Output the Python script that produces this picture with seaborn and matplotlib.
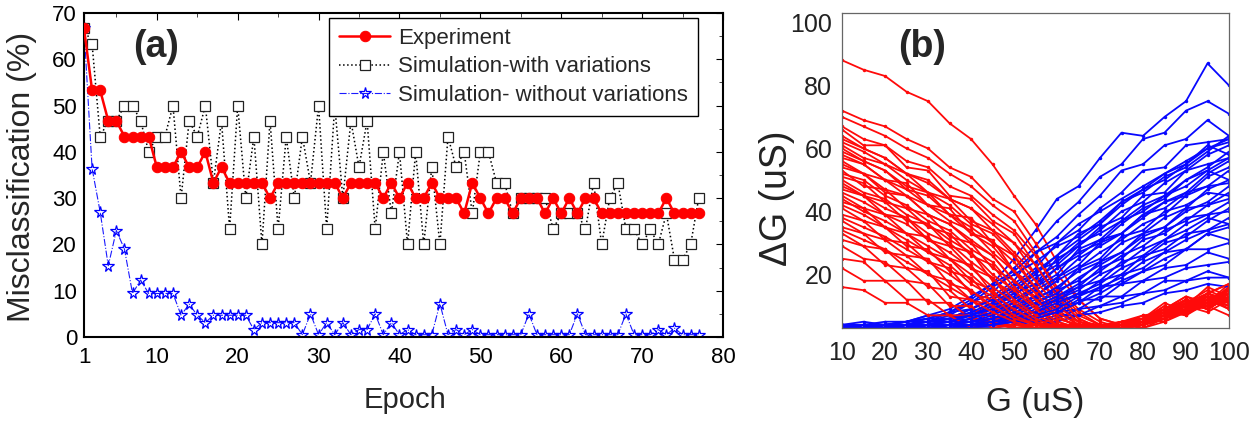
import matplotlib
matplotlib.use("Agg")
import matplotlib.pyplot as plt
from matplotlib.ticker import MultipleLocator, FixedLocator
import seaborn as sns

sns.set_theme(style="white")
plt.rcParams['font.family'] = ['Liberation Sans', 'DejaVu Sans']

# ---------------- panel (a) data ----------------
epochs = list(range(1, 78))
experiment = [66.7, 53.3, 53.3, 46.7, 46.7, 43.3, 43.3, 43.3, 43.3, 36.7,
              36.7, 36.7, 40.0, 36.7, 36.7, 40.0, 33.3, 36.7, 33.3, 33.3,
              33.3, 33.3, 33.3, 30.0, 33.3, 33.3, 33.3, 33.3, 33.3, 33.3,
              33.3, 33.3, 30.0, 33.3, 33.3, 33.3, 33.3, 30.0, 33.3, 30.0,
              33.3, 30.0, 30.0, 33.3, 30.0, 30.0, 30.0, 26.7, 33.3, 30.0,
              26.7, 30.0, 30.0, 26.7, 30.0, 30.0, 30.0, 26.7, 30.0, 26.7,
              30.0, 26.7, 30.0, 30.0, 26.7, 26.7, 26.7, 26.7, 26.7, 26.7,
              26.7, 26.7, 30.0, 26.7, 26.7, 26.7, 26.7]
sim_with_var = [66.7, 63.3, 43.3, 46.7, 46.7, 50.0, 50.0, 46.7, 40.0, 43.3,
                43.3, 50.0, 30.0, 46.7, 43.3, 50.0, 33.3, 46.7, 23.3, 50.0,
                30.0, 43.3, 20.0, 46.7, 23.3, 43.3, 30.0, 43.3, 33.3, 50.0,
                23.3, 50.0, 30.0, 46.7, 36.7, 46.7, 23.3, 40.0, 26.7, 40.0,
                20.0, 40.0, 20.0, 36.7, 20.0, 43.3, 36.7, 40.0, 26.7, 40.0,
                40.0, 33.3, 33.3, 26.7, 30.0, 30.0, 30.0, 30.0, 23.3, 26.7,
                26.7, 26.7, 23.3, 33.3, 20.0, 30.0, 33.3, 23.3, 23.3, 20.0,
                23.3, 20.0, 26.7, 16.7, 16.7, 20.0, 30.0]
sim_without_var = [66.7, 36.4, 27.0, 15.4, 23.0, 19.0, 9.4, 12.3, 9.4, 9.4,
                   9.4, 9.4, 4.7, 7.1, 4.7, 3.1, 4.7, 4.7, 4.7, 4.7,
                   4.7, 1.6, 3.1, 3.1, 3.1, 3.1, 3.1, 0.5, 5.0, 0.5,
                   3.1, 0.5, 3.1, 0.5, 1.6, 1.6, 5.0, 0.5, 3.1, 0.5,
                   1.6, 0.5, 0.5, 0.5, 7.2, 0.5, 1.6, 0.5, 1.6, 0.5,
                   0.5, 0.5, 0.5, 0.5, 0.5, 5.0, 0.5, 0.5, 0.5, 0.5,
                   0.5, 5.0, 0.5, 0.5, 0.5, 0.5, 0.5, 5.0, 0.5, 0.5,
                   0.5, 1.6, 0.5, 1.9, 0.5, 0.5, 0.5]
x_ticks_a = [1, 10, 20, 30, 40, 50, 60, 70, 80]
y_ticks_a = [0, 10, 20, 30, 40, 50, 60, 70]
legend_labels = ["Experiment", "Simulation-with variations", "Simulation- without variations"]

# ---------------- panel (b) data ----------------
G_vals = [10, 15, 20, 25, 30, 35, 40, 45, 50, 55, 60, 65, 70, 75, 80, 85, 90, 95, 100]

red_01 = [88, 85, 83, 78, 75, 68, 63, 55, 45, 36, 24, 12, 6, 4, 5, 7, 10, 8, 12]
red_02 = [72, 69, 67, 63, 60, 54, 51, 44, 40, 30, 20, 12, 6, 4, 3, 5, 8, 10, 7]
red_03 = [70, 67, 64, 60, 57, 52, 48, 42, 37, 27, 16, 9, 5, 3, 4, 6, 9, 12, 9]
red_04 = [66, 61, 61, 54, 53, 45, 44, 37, 33, 23, 14, 7, 4, 3, 5, 8, 12, 10, 15]
red_05 = [64, 60, 57, 52, 49, 44, 41, 34, 30, 20, 12, 6, 3, 4, 3, 6, 9, 14, 11]
red_06 = [62, 59, 55, 52, 46, 44, 37, 34, 27, 20, 11, 5, 4, 3, 4, 8, 7, 11, 16]
red_07 = [60, 56, 53, 48, 46, 39, 38, 30, 26, 15, 9, 4, 3, 4, 5, 7, 12, 9, 13]
red_08 = [58, 55, 50, 49, 42, 41, 33, 31, 21, 16, 8, 5, 3, 3, 5, 10, 8, 13, 10]
red_09 = [56, 52, 50, 45, 42, 37, 34, 27, 21, 12, 7, 3, 4, 3, 4, 6, 11, 15, 12]
red_10 = [55, 52, 46, 45, 39, 36, 30, 26, 18, 13, 6, 4, 3, 5, 6, 9, 13, 11, 17]
red_11 = [53, 48, 47, 41, 39, 32, 30, 22, 18, 10, 5, 3, 4, 3, 5, 7, 10, 14, 11]
red_12 = [51, 49, 43, 41, 35, 33, 26, 23, 14, 10, 4, 3, 3, 4, 6, 11, 8, 12, 15]
red_13 = [49, 45, 43, 37, 36, 29, 27, 18, 14, 7, 4, 3, 4, 3, 4, 7, 12, 9, 13]
red_14 = [47, 45, 39, 38, 31, 29, 22, 19, 10, 8, 3, 4, 3, 5, 7, 8, 10, 16, 13]
red_15 = [45, 41, 39, 33, 32, 25, 23, 14, 11, 5, 3, 3, 4, 3, 5, 9, 13, 10, 15]
red_16 = [43, 41, 35, 33, 27, 25, 18, 15, 8, 6, 4, 3, 3, 4, 7, 6, 9, 12, 11]
red_17 = [41, 37, 35, 29, 28, 21, 19, 11, 9, 4, 3, 4, 3, 4, 5, 8, 11, 14, 17]
red_18 = [39, 37, 31, 30, 24, 22, 14, 12, 6, 5, 3, 3, 4, 5, 6, 10, 7, 12, 14]
red_19 = [37, 33, 31, 26, 25, 17, 15, 9, 7, 4, 3, 4, 3, 4, 5, 7, 11, 13, 12]
red_20 = [35, 33, 27, 26, 20, 18, 12, 10, 4, 4, 4, 3, 4, 3, 6, 8, 12, 9, 16]
red_21 = [33, 29, 28, 22, 21, 13, 12, 6, 5, 3, 3, 4, 3, 5, 4, 7, 9, 11, 14]
red_22 = [31, 29, 23, 22, 16, 15, 9, 7, 3, 4, 4, 3, 4, 3, 5, 6, 10, 13, 10]
red_23 = [29, 25, 24, 18, 17, 10, 10, 4, 4, 3, 3, 4, 3, 4, 5, 9, 8, 14, 17]
red_24 = [25, 24, 18, 18, 11, 11, 6, 5, 3, 3, 4, 3, 4, 3, 4, 6, 8, 11, 12]
red_25 = [22, 18, 18, 12, 12, 7, 7, 3, 4, 4, 3, 3, 4, 4, 5, 7, 12, 9, 13]
red_26 = [16, 15, 11, 11, 7, 7, 3, 4, 3, 3, 3, 4, 3, 5, 4, 6, 8, 13, 9]
red_27 = [67, 63, 61, 56, 54, 48, 45, 39, 34, 26, 15, 8, 4, 3, 4, 6, 10, 13, 9]
red_28 = [63, 60, 57, 52, 50, 44, 41, 36, 30, 23, 13, 6, 3, 4, 5, 7, 11, 9, 14]
red_29 = [61, 57, 55, 50, 46, 42, 36, 33, 26, 18, 10, 5, 3, 3, 4, 9, 8, 12, 10]
red_30 = [59, 56, 53, 47, 45, 39, 35, 30, 24, 16, 8, 4, 4, 3, 6, 5, 9, 14, 12]
red_31 = [57, 55, 50, 47, 42, 39, 33, 29, 21, 14, 7, 3, 3, 4, 5, 8, 12, 10, 16]
red_32 = [54, 52, 47, 45, 39, 36, 31, 26, 18, 12, 6, 4, 3, 3, 5, 7, 9, 13, 11]
red_33 = [52, 50, 45, 42, 37, 34, 28, 24, 16, 10, 5, 3, 4, 3, 4, 6, 11, 9, 14]
red_34 = [50, 46, 44, 39, 36, 31, 27, 20, 15, 9, 4, 3, 3, 4, 6, 9, 8, 13, 12]
red_35 = [48, 45, 41, 38, 33, 30, 24, 19, 12, 7, 4, 4, 3, 3, 5, 7, 10, 12, 15]
red_36 = [46, 43, 39, 36, 31, 27, 22, 16, 11, 6, 3, 3, 4, 3, 4, 8, 11, 9, 13]
red_37 = [44, 40, 37, 33, 29, 25, 20, 14, 9, 5, 3, 4, 3, 4, 5, 6, 9, 14, 11]
red_38 = [42, 39, 35, 31, 27, 23, 17, 13, 7, 4, 4, 3, 3, 5, 6, 9, 12, 10, 15]
red_39 = [38, 35, 32, 28, 24, 20, 15, 10, 6, 4, 3, 4, 3, 4, 5, 7, 10, 13, 12]
red_40 = [34, 31, 28, 24, 20, 16, 12, 8, 5, 3, 4, 3, 4, 3, 4, 8, 9, 11, 14]

blue_01 = [4, 4, 5, 5, 6, 8, 12, 17, 25, 34, 44, 48, 57, 65, 64, 70, 75, 87, 80]
blue_02 = [4, 5, 4, 5, 7, 7, 11, 14, 22, 29, 37, 43, 51, 55, 63, 65, 72, 75, 71]
blue_03 = [3, 4, 4, 5, 5, 8, 9, 13, 18, 27, 32, 39, 45, 53, 55, 61, 63, 69, 64]
blue_04 = [4, 3, 4, 4, 6, 6, 9, 12, 17, 22, 30, 34, 41, 46, 53, 54, 61, 62, 63]
blue_05 = [3, 4, 4, 4, 5, 7, 7, 11, 14, 21, 26, 33, 36, 43, 47, 52, 55, 61, 58]
blue_06 = [4, 4, 3, 4, 4, 5, 8, 9, 14, 17, 25, 29, 35, 38, 45, 46, 53, 55, 57]
blue_07 = [3, 3, 4, 4, 5, 5, 6, 9, 11, 16, 20, 28, 31, 37, 40, 45, 48, 53, 50]
blue_08 = [4, 3, 3, 4, 4, 5, 7, 7, 11, 13, 19, 23, 30, 33, 39, 41, 46, 48, 49]
blue_09 = [3, 4, 3, 3, 4, 4, 5, 8, 9, 13, 15, 22, 25, 32, 34, 40, 42, 46, 45]
blue_10 = [3, 3, 4, 3, 4, 5, 5, 6, 9, 11, 15, 18, 24, 27, 33, 35, 41, 42, 44]
blue_11 = [4, 3, 3, 4, 3, 4, 6, 6, 8, 10, 13, 16, 22, 25, 31, 33, 38, 39, 40]
blue_12 = [3, 3, 3, 3, 4, 4, 4, 6, 7, 10, 12, 16, 18, 24, 26, 31, 34, 38, 36]
blue_13 = [3, 4, 3, 3, 3, 4, 5, 5, 7, 8, 12, 13, 18, 20, 26, 28, 33, 34, 36]
blue_14 = [3, 3, 4, 3, 3, 3, 4, 6, 6, 8, 10, 14, 15, 20, 22, 27, 28, 33, 31]
blue_15 = [4, 3, 3, 3, 4, 3, 4, 4, 6, 7, 10, 11, 16, 17, 21, 23, 28, 28, 30]
blue_16 = [3, 3, 3, 4, 3, 3, 3, 5, 5, 7, 8, 12, 12, 17, 18, 22, 23, 27, 25]
blue_17 = [3, 3, 3, 3, 3, 4, 3, 4, 4, 6, 8, 9, 13, 13, 18, 19, 22, 23, 24]
blue_18 = [3, 3, 3, 3, 3, 3, 4, 4, 5, 5, 6, 9, 10, 13, 14, 18, 18, 21, 19]
blue_19 = [3, 3, 3, 3, 3, 3, 3, 4, 4, 5, 7, 7, 10, 11, 14, 15, 18, 19, 19]
blue_20 = [3, 3, 3, 3, 3, 3, 3, 3, 4, 4, 5, 7, 8, 10, 11, 14, 15, 17, 16]
blue_21 = [4, 4, 4, 5, 7, 9, 13, 17, 21, 27, 30, 36, 40, 44, 48, 52, 56, 60, 62]
blue_22 = [3, 4, 4, 5, 6, 8, 11, 16, 20, 24, 29, 32, 37, 43, 46, 51, 54, 59, 64]
blue_23 = [3, 3, 4, 4, 5, 6, 9, 12, 16, 21, 24, 30, 33, 37, 42, 45, 50, 53, 57]
blue_24 = [4, 3, 4, 4, 5, 5, 7, 10, 14, 17, 22, 26, 31, 33, 39, 43, 45, 51, 54]
blue_25 = [3, 4, 3, 4, 5, 6, 8, 11, 15, 20, 26, 31, 36, 42, 47, 50, 55, 60, 63]
blue_26 = [4, 3, 3, 4, 4, 6, 7, 10, 13, 19, 23, 29, 34, 40, 43, 49, 53, 58, 61]
blue_27 = [3, 3, 4, 3, 4, 5, 7, 9, 12, 16, 22, 27, 30, 36, 41, 44, 50, 54, 59]
blue_28 = [3, 4, 3, 3, 4, 4, 6, 8, 11, 15, 19, 25, 29, 33, 38, 43, 46, 52, 56]
blue_29 = [4, 3, 3, 4, 3, 4, 5, 7, 10, 13, 18, 22, 27, 31, 36, 39, 45, 48, 53]
blue_30 = [3, 3, 4, 3, 3, 4, 5, 6, 9, 12, 16, 21, 24, 30, 33, 38, 41, 47, 50]
blue_31 = [3, 4, 3, 3, 4, 3, 4, 6, 8, 11, 14, 19, 23, 27, 32, 35, 40, 43, 48]
blue_32 = [4, 3, 3, 3, 3, 4, 4, 5, 7, 10, 13, 17, 21, 26, 29, 34, 37, 42, 46]
blue_33 = [3, 3, 3, 4, 3, 3, 4, 5, 6, 9, 12, 15, 20, 23, 28, 31, 36, 39, 43]
blue_34 = [3, 3, 4, 3, 3, 3, 4, 4, 6, 8, 11, 14, 17, 22, 25, 30, 32, 37, 41]
blue_35 = [3, 4, 3, 3, 3, 3, 3, 4, 5, 7, 9, 13, 16, 19, 24, 27, 31, 34, 38]
blue_36 = [4, 3, 3, 3, 3, 3, 3, 4, 5, 6, 8, 11, 14, 18, 21, 25, 28, 33, 35]

red_curves = [red_01, red_02, red_03, red_04, red_05, red_06, red_07, red_08, red_09,
              red_10, red_11, red_12, red_13, red_14, red_15, red_16, red_17, red_18,
              red_19, red_20, red_21, red_22, red_23, red_24, red_25, red_26, red_27,
              red_28, red_29, red_30, red_31, red_32, red_33, red_34, red_35, red_36,
              red_37, red_38, red_39, red_40]
blue_curves = [blue_01, blue_02, blue_03, blue_04, blue_05, blue_06, blue_07, blue_08,
               blue_09, blue_10, blue_11, blue_12, blue_13, blue_14, blue_15, blue_16,
               blue_17, blue_18, blue_19, blue_20, blue_21, blue_22, blue_23, blue_24,
               blue_25, blue_26, blue_27, blue_28, blue_29, blue_30, blue_31, blue_32,
               blue_33, blue_34, blue_35, blue_36]
x_ticks_b = [10, 20, 30, 40, 50, 60, 70, 80, 90, 100]
y_ticks_b = [20, 40, 60, 80, 100]

# ---------------- figure ----------------
W, H = 1256, 421
fig = plt.figure(figsize=(W / 100, H / 100), dpi=100)
fig.patch.set_facecolor('white')

def fx(px):
    return px / W

def fy(py):
    return 1 - py / H

ax = fig.add_axes([fx(84), fy(337), fx(723) - fx(84), fy(13) - fy(337)])
ax.set_facecolor('white')

l_star = sns.lineplot(x=epochs, y=sim_without_var, ax=ax, color='#1a1aff', linestyle='-.',
                      linewidth=0.8, marker='*', markersize=8.5, markerfacecolor='none',
                      markeredgecolor='#0000ff', markeredgewidth=0.9, zorder=2).get_lines()[-1]
l_sq = sns.lineplot(x=epochs, y=sim_with_var, ax=ax, color='black', linestyle=':',
                    linewidth=1.1, marker='s', markersize=6.5, markerfacecolor='white',
                    markeredgecolor='#222222', markeredgewidth=0.9, zorder=3).get_lines()[-1]
l_exp = sns.lineplot(x=epochs, y=experiment, ax=ax, color='#ff0000', linestyle='-',
                     linewidth=1.8, marker='o', markersize=7.5, markerfacecolor='#ff0000',
                     markeredgecolor='#ff0000', zorder=4).get_lines()[-1]

ax.set_xlim(1, 80)
ax.set_ylim(0, 70)
ax.xaxis.set_major_locator(FixedLocator(x_ticks_a))
ax.xaxis.set_minor_locator(MultipleLocator(5))
ax.yaxis.set_major_locator(FixedLocator(y_ticks_a))
ax.yaxis.set_minor_locator(MultipleLocator(5))
ax.set_xticklabels([str(v) for v in x_ticks_a])
ax.set_yticklabels([str(v) for v in y_ticks_a])
ax.tick_params(axis='both', which='major', direction='in', length=5, width=0.8,
               top=True, right=True, labelsize=16, colors='black')
ax.tick_params(axis='both', which='minor', direction='in', length=3, width=0.6,
               top=True, right=True)
ax.tick_params(axis='x', which='major', pad=7)
ax.tick_params(axis='y', which='major', pad=5)
for s in ax.spines.values():
    s.set_color('black')
    s.set_linewidth(1.5)
ax.set_xlabel('')
ax.set_ylabel('')

leg = ax.legend([l_exp, l_sq, l_star], legend_labels, loc='upper left',
                bbox_to_anchor=((329 - 84) / 639, (337 - 18) / 324), borderaxespad=0,
                fontsize=16, frameon=True, fancybox=False, framealpha=1,
                edgecolor='black', handlelength=2.3, handletextpad=0.35,
                labelspacing=0.33, borderpad=0.45)
leg.get_frame().set_linewidth(1.0)
leg.set_zorder(10)

fig.text(fx(156), fy(47), '(a)', fontsize=27, fontweight='bold', ha='center', va='center')
fig.text(fx(22), fy(177), 'Misclassification (%)', fontsize=23, rotation=90,
         ha='center', va='center')
fig.text(fx(405), fy(400), 'Epoch', fontsize=21, ha='center', va='center')

# ---------------- panel (b) ----------------
axb = fig.add_axes([fx(842), fy(328), fx(1229) - fx(842), fy(13) - fy(328)])
axb.set_facecolor('white')
line_kw = dict(linewidth=1.3, marker='.', markersize=5, markeredgewidth=0)
n_pairs = min(len(red_curves), len(blue_curves))
for i in range(n_pairs):
    sns.lineplot(x=G_vals, y=blue_curves[i], ax=axb, color='#0808ff', **line_kw)
    sns.lineplot(x=G_vals, y=red_curves[i], ax=axb, color='#ff0a0a', **line_kw)
for rc in red_curves[n_pairs:]:
    sns.lineplot(x=G_vals, y=rc, ax=axb, color='#ff0a0a', **line_kw)

axb.set_xlim(10, 100)
axb.set_ylim(3, 103)
axb.xaxis.set_major_locator(FixedLocator(x_ticks_b))
axb.yaxis.set_major_locator(FixedLocator(y_ticks_b))
axb.set_xticklabels([str(v) for v in x_ticks_b])
axb.set_yticklabels([str(v) for v in y_ticks_b])
axb.tick_params(axis='both', which='both', length=0, labelsize=18, colors='#222222')
axb.tick_params(axis='x', pad=9)
axb.tick_params(axis='y', pad=7)
for s in axb.spines.values():
    s.set_color('#666666')
    s.set_linewidth(0.9)
axb.set_xlabel('')
axb.set_ylabel('')

fig.text(fx(922), fy(47), '(b)', fontsize=27, fontweight='bold', ha='center', va='center')
fig.text(fx(1035), fy(402), 'G (uS)', fontsize=24, ha='center', va='center', color='#222222')
fig.text(fx(777), fy(198), 'ΔG (uS)', fontsize=27, rotation=90, ha='center', va='center',
         color='#222222')

fig.savefig('out.png', dpi=100, facecolor='white')
